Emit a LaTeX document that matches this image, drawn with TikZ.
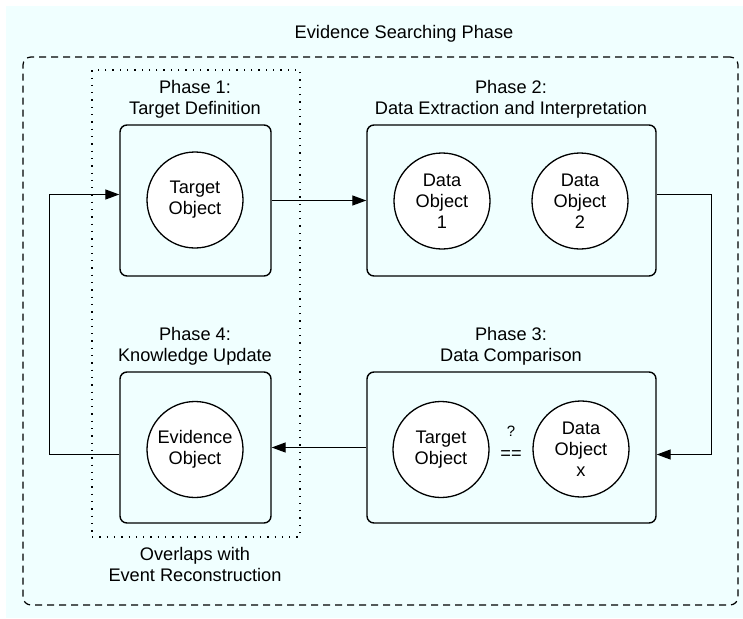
\documentclass[tikz,border=0pt]{standalone}
\usepackage{fontspec}
\setmainfont{Liberation Sans}
\usetikzlibrary{arrows.meta}
\definecolor{bgcyan}{RGB}{240,255,255}
\begin{document}
\begin{tikzpicture}[x=1pt,y=-1pt,
  font=\fontsize{18.2}{21}\selectfont,
  phasebox/.style={draw, line width=1.4pt, rounded corners=7pt, minimum width=151pt, minimum height=151pt, inner sep=0pt},
  widebox/.style={phasebox, minimum width=289pt},
  obj/.style={circle, draw, line width=1.3pt, fill=white, minimum size=96pt, inner sep=0pt, align=center},
  lbl/.style={align=center, inner sep=0pt},
  arr/.style={line width=1.3pt, -{Triangle[length=14pt,width=10pt]}}
]
\useasboundingbox (0,0) rectangle (743,618);
\fill[white] (0,0) rectangle (743,618);
\fill[bgcyan] (6,6) rectangle (743,618);

% outer dashed region
\node[draw, line width=1.2pt, dash pattern=on 7pt off 5pt, rounded corners=8pt, minimum width=715pt, minimum height=548pt, inner sep=0pt] (esp) at (380.5,331) {};
\node[lbl] (esptitle) at (404,34) {Evidence Searching Phase};

% dotted overlap region
\node[draw, line width=1.4pt, dash pattern=on 1.3pt off 6pt, minimum width=208pt, minimum height=467pt, inner sep=0pt] (ovl) at (196,303.5) {};
\node[lbl] (ovltxt) at (195,564.5) {Overlaps with\\Event Reconstruction};

% phase boxes
\node[phasebox] (b1) at (195.5,200.5) {};
\node[widebox] (b2) at (511.5,200.5) {};
\node[widebox] (b3) at (511.5,447.5) {};
\node[phasebox] (b4) at (195.5,447.5) {};

% phase titles
\node[lbl] (t1) at (195,99) {Phase 1:\\Target Definition};
\node[lbl] (t2) at (511,99) {Phase 2:\\Data Extraction and Interpretation};
\node[lbl] (t3) at (511,346) {Phase 3:\\Data Comparison};
\node[lbl] (t4) at (195,346) {Phase 4:\\Knowledge Update};

% objects
\node[obj] (c1) at (195,200) {Target\\Object};
\node[obj] (c21) at (442,201) {Data\\Object\\1};
\node[obj] (c22) at (580,201) {Data\\Object\\2};
\node[obj] (c31) at (441,449.5) {Target\\Object};
\node[obj] (c32) at (581,449) {Data\\Object\\x};
\node[obj] (c4) at (195,449.5) {Evidence\\Object};
\node[lbl, font=\fontsize{15}{17}\selectfont] (q) at (511,431) {?};
\node[lbl] (eq) at (511,455) {==};

% connectors
\draw[arr] (b1.east) -- (b2.west);
\draw[arr] ([yshift=6pt]b2.east) -- ++(55,0) |- ([yshift=-7pt]b3.east);
\draw[arr] (b3.west) -- (b4.east);
\draw[arr] ([yshift=-7pt]b4.west) -- ++(-70,0) |- ([yshift=6pt]b1.west);
\end{tikzpicture}
\end{document}
